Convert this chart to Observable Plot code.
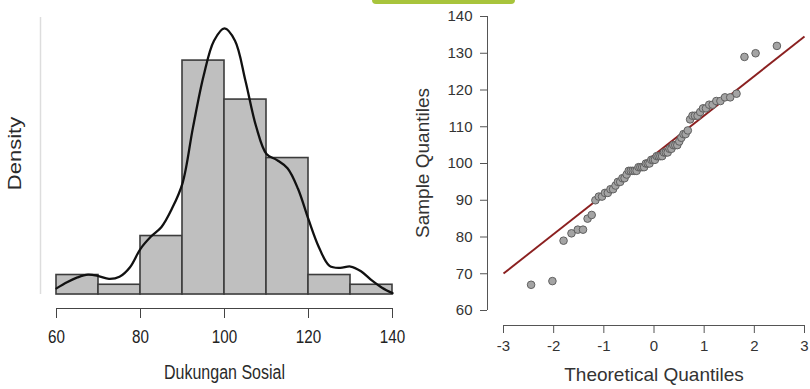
<!DOCTYPE html>
<html>
<head>
<meta charset="utf-8">
<script src="https://cdn.jsdelivr.net/npm/d3@7"></script>
<script src="https://cdn.jsdelivr.net/npm/@observablehq/plot@0.6"></script>
<style>
  html, body { margin: 0; padding: 0; background: #fff; }
  #wrap { position: relative; width: 810px; height: 389px; overflow: hidden; background: #fff; }
  #left, #right { position: absolute; top: 0; }
  #left { left: 0; }
  #right { left: 405px; }
  #blob { position: absolute; left: 372px; top: 0; width: 143px; height: 4px; background: #a8c43c; border-radius: 0 0 8px 8px; }
</style>
</head>
<body>
<div id="wrap">
  <div id="left"></div>
  <div id="right"></div>
  <div id="blob"></div>
</div>
<script>
// ---------- Histogram data (Dukungan Sosial) ----------
const binEdges = [60, 70, 80, 90, 100, 110, 120, 130, 140];
const binCounts = [2, 1, 6, 24, 20, 14, 2, 1];
const histTicks = [60, 80, 100, 120, 140];

// density curve
const curveX = [60, 62.5, 65, 67.5, 70, 72.5, 75, 77.5, 80, 82.5, 85, 87.5, 90, 92.5, 95, 97.5, 100,
                102.5, 105, 107.5, 110, 112.5, 115, 117.5, 120, 122.5, 125, 127.5, 130, 132.5, 135, 137.5, 140];
const curveY = [0.0009, 0.0018, 0.0025, 0.0029, 0.0027, 0.0023, 0.0026, 0.0040, 0.0067, 0.0085, 0.0099, 0.0126,
                0.0163, 0.0245, 0.0320, 0.0372, 0.0390, 0.0372, 0.0313, 0.0247, 0.0206, 0.0197, 0.0185, 0.0155,
                0.0110, 0.0069, 0.0042, 0.0039, 0.0041, 0.0034, 0.0021, 0.0010, 0.0002];

// ---------- Q-Q plot data ----------
const theoretical = [-2.450, -2.025, -1.803, -1.645, -1.519, -1.415, -1.324, -1.242, -1.168, -1.100,
                     -1.036, -0.977, -0.921, -0.868, -0.816, -0.767, -0.720, -0.674, -0.630, -0.587,
                     -0.545, -0.504, -0.464, -0.424, -0.385, -0.347, -0.309, -0.272, -0.235, -0.198,
                     -0.162, -0.126, -0.090, -0.054, -0.018, 0.018, 0.054, 0.090, 0.126, 0.162,
                     0.198, 0.235, 0.272, 0.309, 0.347, 0.385, 0.424, 0.464, 0.504, 0.545,
                     0.587, 0.630, 0.674, 0.720, 0.767, 0.816, 0.868, 0.921, 0.977, 1.036,
                     1.100, 1.168, 1.242, 1.324, 1.415, 1.519, 1.645, 1.803, 2.025, 2.450];
const sample = [67, 68, 79, 81, 82, 82, 85, 86, 90, 91,
                91, 92, 92, 93, 93, 94, 95, 95, 96, 96,
                97, 98, 98, 98, 98, 98, 99, 99, 99, 99,
                100, 100, 100, 101, 101, 101, 102, 102, 102, 102,
                103, 103, 103, 104, 104, 105, 105, 105, 106, 107,
                108, 108, 109, 112, 113, 113, 113, 114, 115, 115,
                116, 116, 117, 117, 118, 118, 119, 129, 130, 132];
const qqIntercept = 102.3;
const qqSlope = 10.75;
const qqXTicks = [-3, -2, -1, 0, 1, 2, 3];
const qqYTicks = [60, 70, 80, 90, 100, 110, 120, 130, 140];

const font = "'Liberation Sans', Arial, Helvetica, sans-serif";

// ---------- Left: histogram ----------
const nTotal = d3.sum(binCounts);
const bins = binCounts.map((c, i) => ({
  x1: binEdges[i], x2: binEdges[i + 1],
  density: c / (nTotal * (binEdges[i + 1] - binEdges[i]))
}));
const curve = curveX.map((x, i) => ({x, y: curveY[i]}));
const hTop = 0.0406, hLow = -0.00205;

const left = Plot.plot({
  width: 405, height: 389,
  marginLeft: 56, marginRight: 13, marginTop: 17, marginBottom: 81,
  style: {fontFamily: font, background: "transparent", overflow: "visible"},
  x: {domain: d3.extent(binEdges)},
  y: {domain: [hLow, hTop], axis: null},
  marks: [
    Plot.ruleX([binEdges[0]], {dx: -16, y1: 0, y2: hTop, stroke: "#dddddd", strokeWidth: 1.5}),
    Plot.rectY(bins, {x1: "x1", x2: "x2", y: "density", fill: "#bfbfbf", stroke: "#3c3c3c", strokeWidth: 1.6}),
    Plot.line(curve, {x: "x", y: "y", curve: "catmull-rom", stroke: "#111", strokeWidth: 2.3}),
    Plot.ruleY([hLow], {x1: d3.min(histTicks), x2: d3.max(histTicks), stroke: "#444", strokeWidth: 1.2}),
    Plot.axisX({ticks: histTicks, tickSize: 10, tickPadding: 11, fontSize: 19, fill: "#222",
                stroke: "#444", tickFormat: d => String(d), label: null}),
    Plot.text([{label: "Dukungan Sosial", x: d3.mean(d3.extent(histTicks))}],
              {x: "x", text: "label", frameAnchor: "bottom", dy: 70, fontSize: 20, fill: "#2a2a2a"}),
    Plot.text(["Density"], {text: d => d, frameAnchor: "left", textAnchor: "middle", rotate: -90,
              dx: -41, dy: -9.5, fontSize: 22, fill: "#2a2a2a"})
  ]
});
// horizontally condensed look of the left panel's text
for (const t of left.querySelectorAll("text")) {
  const tr = t.getAttribute("transform");
  if (tr) {
    t.setAttribute("transform", tr + (tr.includes("rotate") ? " scale(1,0.8)" : " scale(0.8,1)"));
  } else {
    const x = parseFloat(t.getAttribute("x") || "0");
    t.setAttribute("transform", `translate(${x},0) scale(0.8,1) translate(${-x},0)`);
  }
}
document.getElementById("left").appendChild(left);

// ---------- Right: Q-Q plot ----------
const qq = theoretical.map((x, i) => ({x, y: sample[i]}));
const xLow = -3.319, yLow = 55.92;
const lineEnds = d3.extent(qqXTicks);

const right = Plot.plot({
  width: 405, height: 389,
  marginLeft: 82, marginRight: 6, marginTop: 16, marginBottom: 64,
  style: {fontFamily: font, background: "transparent", overflow: "visible"},
  x: {domain: [xLow, d3.max(qqXTicks)]},
  y: {domain: [yLow, d3.max(qqYTicks)]},
  marks: [
    Plot.ruleY([yLow], {x1: d3.min(qqXTicks), x2: d3.max(qqXTicks), stroke: "#555", strokeWidth: 1}),
    Plot.ruleX([xLow], {y1: d3.min(qqYTicks), y2: d3.max(qqYTicks), stroke: "#555", strokeWidth: 1}),
    Plot.axisX({ticks: qqXTicks, tickSize: 8, tickPadding: 7, fontSize: 15, fill: "#333", stroke: "#555",
                tickFormat: d => String(d), label: null}),
    Plot.axisY({ticks: qqYTicks, tickSize: 7, tickPadding: 8, fontSize: 15, fill: "#333", stroke: "#555",
                tickFormat: d => String(d), label: null}),
    Plot.link([{x1: lineEnds[0], x2: lineEnds[1]}], {
      x1: "x1", x2: "x2",
      y1: d => qqIntercept + qqSlope * d.x1, y2: d => qqIntercept + qqSlope * d.x2,
      stroke: "#8b2020", strokeWidth: 1.9
    }),
    Plot.dot(qq, {x: "x", y: "y", r: 3.8, fill: "#a4a4a4", stroke: "#606060", strokeWidth: 1}),
    Plot.text([{label: "Theoretical Quantiles", x: d3.mean(lineEnds)}],
              {x: "x", text: "label", frameAnchor: "bottom", dy: 55, fontSize: 19, fill: "#333"}),
    Plot.text(["Sample Quantiles"], {text: d => d, frameAnchor: "left", textAnchor: "middle", rotate: -90,
              dx: -65, dy: -8, fontSize: 19, fill: "#333"})
  ]
});
document.getElementById("right").appendChild(right);
</script>
</body>
</html>
